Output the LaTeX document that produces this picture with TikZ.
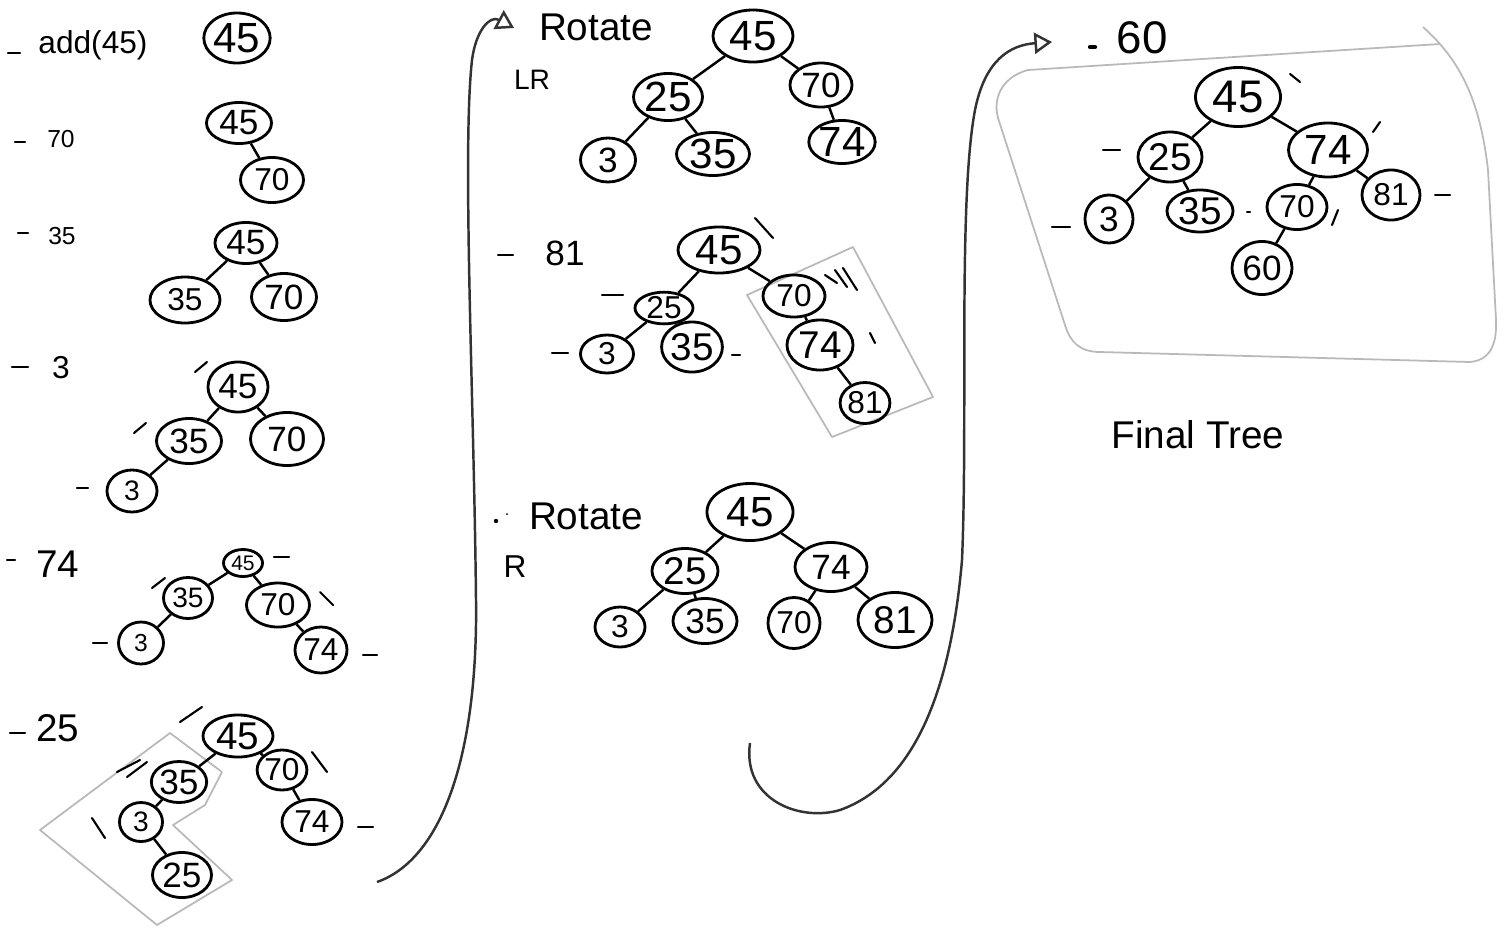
\documentclass[tikz,border=0pt]{standalone}
\usepackage{fontspec}
\setmainfont{Liberation Sans}
\usetikzlibrary{positioning, arrows.meta, shapes.geometric}
\newcommand{\fs}[1]{\fontsize{#1}{#1}\selectfont}

\begin{document}
\begin{tikzpicture}[
    x=0.01cm, y=-0.01cm,
    nd/.style n args={3}{draw, ellipse, line width=0.8pt, inner sep=0pt,
        minimum width=#1cm, minimum height=#2cm, font=\fs{#3}},
    lnk/.style={line width=0.7pt},
    bal/.style={line width=0.6pt, line cap=round},
    lbl/.style={inner sep=0pt},
    hull/.style={draw=gray!55, line width=0.5pt, line join=round},
    flow/.style={line width=0.7pt, draw=black!80, -{Triangle[open, length=5pt, width=6pt]}}
]
\useasboundingbox (0,0) rectangle (1506,927);

% insertion steps, left column
\node[lbl, font=\fs{9}] (l45) at (93,45) {add(45)};
\node[lbl, font=\fs{7}] (l70) at (61,139) {70};
\node[lbl, font=\fs{7}] (l35) at (62,236) {35};
\node[lbl, font=\fs{9}] (l3) at (61,368) {3};
\node[lbl, font=\fs{11}] (l74) at (58,564) {74};
\node[lbl, font=\fs{11}] (l25) at (58,728) {25};
\draw[bal] (8,53) -- (20,53);
\draw[bal] (15,142) -- (25,142);
\draw[bal] (18,233) -- (28,233);
\draw[bal] (12,367) -- (28,367);
\draw[bal] (7,560) -- (15,560);
\draw[bal] (10,733) -- (25,733);

% add 45
\node[nd={0.58}{0.50}{12}] (a45) at (237,38) {45};

% add 70
\node[nd={0.65}{0.41}{10}] (b45) at (239,123) {45};
\node[nd={0.63}{0.45}{9}] (b70) at (272,180) {70};

% add 35
\node[nd={0.62}{0.41}{10}] (c45) at (246,243) {45};
\node[nd={0.70}{0.46}{9}] (c35) at (185,300) {35};
\node[nd={0.65}{0.47}{10}] (c70) at (284,297) {70};

% add 3
\node[nd={0.60}{0.50}{10}] (d45) at (238,387) {45};
\node[nd={0.65}{0.45}{10}] (d35) at (189,441) {35};
\node[nd={0.73}{0.53}{10}] (d70) at (287,439) {70};
\node[nd={0.50}{0.42}{8}] (d3) at (132,491) {3};
\draw[bal] (195,372) -- (207,362);
\draw[bal] (134,433) -- (146,423);
\draw[bal] (77,488) -- (88,488);

% add 74
\node[nd={0.39}{0.27}{6}] (e45) at (243,563) {45};
\node[nd={0.49}{0.41}{8}] (e35) at (188,598) {35};
\node[nd={0.63}{0.44}{9}] (e70) at (278,605) {70};
\node[nd={0.45}{0.42}{7}] (e3) at (141,643) {3};
\node[nd={0.52}{0.46}{9}] (e74) at (321,650) {74};
\draw[bal] (274,557) -- (289,557);
\draw[bal] (152,588) -- (165,578);
\draw[bal] (320,592) -- (333,605);
\draw[bal] (93,643) -- (107,643);
\draw[bal] (363,655) -- (377,655);

% add 25, left-right case
\draw[hull] (170,733) -- (222,772) -- (205,805) -- (173,825) -- (232,880)
    -- (157,925) -- (40,830) -- cycle;
\node[nd={0.70}{0.42}{11}] (f45) at (238,736) {45};
\node[nd={0.52}{0.41}{10}] (f35) at (179,782) {35};
\node[nd={0.47}{0.40}{9}] (f70) at (282,770) {70};
\node[nd={0.43}{0.39}{8}] (f3) at (141,822) {3};
\node[nd={0.60}{0.45}{9}] (f74) at (312,822) {74};
\node[nd={0.59}{0.45}{10}] (f25) at (182,875) {25};
\draw[bal] (180,722) -- (202,707);
\draw[bal] (117,772) -- (140,760);
\draw[bal] (127,777) -- (147,762);
\draw[bal] (92,818) -- (105,838);
\draw[bal] (312,752) -- (327,772);
\draw[bal] (358,827) -- (373,827);

% rotate LR
\node[lbl, font=\fs{11}] (rlr) at (596,27) {Rotate};
\node[lbl, font=\fs{8}] (tlr) at (532,80) {LR};
\node[nd={0.80}{0.52}{12}] (g45) at (753,36) {45};
\node[nd={0.69}{0.47}{12}] (g25) at (668,97) {25};
\node[nd={0.62}{0.44}{10}] (g70) at (821,85) {70};
\node[nd={0.55}{0.44}{10}] (g3) at (608,160) {3};
\node[nd={0.73}{0.43}{12}] (g35) at (713,154) {35};
\node[nd={0.63}{0.43}{12}] (g74) at (842,142) {74};

% add 81, right-right case
\node[lbl, font=\fs{10}] (l81) at (565,253) {81};
\draw[bal] (498,255) -- (513,255);
\draw[hull] (747,295) -- (853,247) -- (933,397) -- (832,437) -- cycle;
\node[nd={0.82}{0.46}{12}] (h45) at (719,250) {45};
\node[nd={0.58}{0.31}{9}] (h25) at (664,308) {25};
\node[nd={0.62}{0.42}{9}] (h70) at (794,296) {70};
\node[nd={0.53}{0.38}{9}] (h3) at (607,354) {3};
\node[nd={0.60}{0.50}{11}] (h35) at (692,347) {35};
\node[nd={0.66}{0.50}{11}] (h74) at (820,345) {74};
\node[nd={0.46}{0.41}{9}] (h81) at (865,403) {81};
\draw[bal] (755,218) -- (773,238);
\draw[bal] (602,295) -- (623,295);
\draw[bal] (552,353) -- (568,353);
\draw[bal] (732,355) -- (740,355);
\draw[bal] (825,275) -- (837,283);
\draw[bal] (835,270) -- (847,287);
\draw[bal] (843,268) -- (857,290);
\draw[bal] (870,333) -- (875,343);

% rotate R
\fill (496,521) circle (2.2);
\fill (507,514) circle (1);
\node[lbl, font=\fs{11}] (rr) at (586,516) {Rotate};
\node[lbl, font=\fs{9}] (tr) at (515,567) {R};
\node[nd={0.86}{0.57}{12}] (i45) at (750,512) {45};
\node[nd={0.66}{0.45}{11}] (i25) at (685,571) {25};
\node[nd={0.72}{0.49}{10}] (i74) at (831,567) {74};
\node[nd={0.50}{0.40}{9}] (i3) at (620,627) {3};
\node[nd={0.64}{0.45}{10}] (i35) at (705,621) {35};
\node[nd={0.52}{0.51}{9}] (i70) at (794,623) {70};
\node[nd={0.74}{0.55}{11}] (i81) at (895,620) {81};

% add 60, final tree
\node[lbl, font=\fs{13}] (l60) at (1142,38) {60};
\draw[line width=1.2pt, line cap=round] (1090,47) -- (1095,47);
\draw[hull] (1423,27) .. controls (1460,60) and (1480,100) .. (1488,170)
    -- (1496,320) .. controls (1497,345) and (1490,360) .. (1470,362)
    -- (1100,352) .. controls (1080,352) and (1070,342) .. (1065,325)
    -- (998,118) .. controls (992,95) and (1005,76) .. (1028,70) -- (1440,44);
\node[nd={0.85}{0.59}{13}] (j45) at (1238,97) {45};
\node[nd={0.64}{0.50}{11}] (j25) at (1170,157) {25};
\node[nd={0.79}{0.54}{12}] (j74) at (1328,150) {74};
\node[nd={0.48}{0.48}{10}] (j3) at (1109,219) {3};
\node[nd={0.66}{0.42}{11}] (j35) at (1200,211) {35};
\node[nd={0.60}{0.45}{9}] (j70) at (1297,207) {70};
\node[nd={0.58}{0.50}{9}] (j81) at (1391,195) {81};
\node[nd={0.60}{0.53}{10}] (j60) at (1262,268) {60};
\draw[bal] (1290,74) -- (1300,82);
\draw[bal] (1373,132) -- (1380,122);
\draw[bal] (1103,150) -- (1120,150);
\draw[bal] (1052,227) -- (1070,227);
\draw[bal] (1247,212) -- (1250,212);
\draw[bal] (1332,225) -- (1338,210);
\draw[bal] (1435,195) -- (1450,195);
\node[lbl, font=\fs{11}] (fin) at (1198,435) {Final Tree};

% parent-child links
\foreach \p/\c in {b45/b70, c45/c35, c45/c70, d45/d35, d45/d70, d35/d3,
    e45/e35, e45/e70, e35/e3, e70/e74,
    f45/f35, f45/f70, f35/f3, f3/f25, f70/f74,
    g45/g25, g45/g70, g25/g3, g25/g35, g70/g74,
    h45/h25, h45/h70, h25/h3, h25/h35, h70/h74, h74/h81,
    i45/i25, i45/i74, i25/i3, i25/i35, i74/i70, i74/i81,
    j45/j25, j45/j74, j25/j3, j25/j35, j74/j70, j74/j81, j70/j60}
    \draw[lnk] (\p) -- (\c);

% flow between the columns
\coordinate (s1) at (377,882);
\coordinate (e1) at (514,28);
\coordinate (s2) at (750,743);
\coordinate (e2) at (1052,42);
\draw[flow] (s1) .. controls (440,860) and (478,760) .. (476,600)
    .. controls (474,400) and (462,150) .. (472,60)
    .. controls (476,30) and (490,15) .. (e1);
\draw[flow] (s2) .. controls (742,800) and (800,822) .. (840,810)
    .. controls (910,785) and (950,700) .. (962,560)
    .. controls (968,420) and (958,200) .. (975,110)
    .. controls (985,60) and (1010,45) .. (e2);
\end{tikzpicture}
\end{document}
